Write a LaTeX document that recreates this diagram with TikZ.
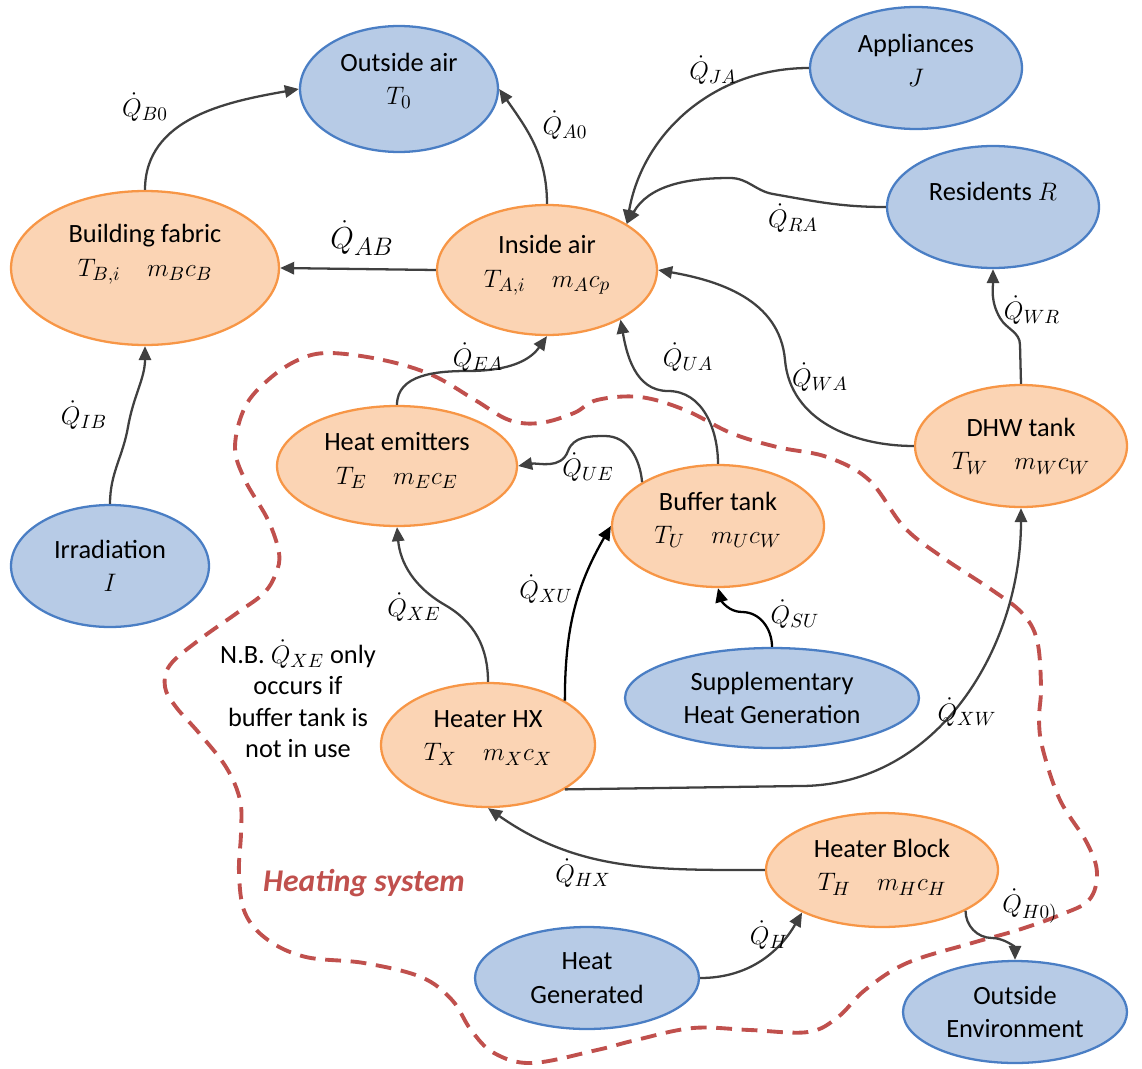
\documentclass[tikz,border=0pt]{standalone}
\usepackage{fontspec}
\setmainfont{Carlito}
\usetikzlibrary{shapes.geometric,arrows.meta}
\definecolor{outfill}{HTML}{B7CBE6}
\definecolor{outline}{HTML}{4A7EC4}
\definecolor{infill}{HTML}{FBD4B4}
\definecolor{inline}{HTML}{F79646}
\definecolor{flowgray}{HTML}{404040}
\definecolor{sysred}{HTML}{C0504D}

\begin{document}
\begin{tikzpicture}[x=0.02cm, y=0.02cm, font=\fontsize{15}{19}\selectfont,
  outer/.style={ellipse, draw=outline, fill=outfill, line width=1.3pt, inner sep=0pt, align=center},
  inner/.style={ellipse, draw=inline, fill=infill, line width=1.3pt, inner sep=0pt, align=center},
  lift/.style={text depth=#1},
  flow/.style={draw=flowgray, line width=1.3pt, -{Triangle[length=8pt,width=7pt]}},
  blackflow/.style={flow, draw=black},
  qlbl/.style={inner sep=0.5pt}]
  \useasboundingbox (0,0) rectangle (1142,-1068);

  \node[outer, lift=11.5pt, minimum width=3.96cm, minimum height=2.52cm] (oa) at (399,-89) {Outside air\\$T_0$};
  \node[outer, lift=8.5pt, minimum width=4.24cm, minimum height=2.44cm] (app) at (916,-68) {Appliances\\$J$};
  \node[outer, lift=18pt, minimum width=4.24cm, minimum height=2.44cm] (res) at (993,-207) {Residents $R$};
  \node[inner, lift=20pt, minimum width=5.36cm, minimum height=3.08cm] (bf) at (145,-268) {Building fabric\\$T_{B,i}\quad m_Bc_B$};
  \node[inner, lift=10pt, minimum width=4.4cm, minimum height=2.6cm] (ia) at (547,-270) {Inside air\\$T_{A,i}\quad m_Ac_p$};
  \node[outer, minimum width=3.96cm, minimum height=2.44cm] (irr) at (110,-566) {Irradiation\\$I$};
  \node[inner, lift=8.5pt, minimum width=4.8cm, minimum height=2.4cm] (he) at (397,-466) {Heat emitters\\$T_E\quad m_Ec_E$};
  \node[inner, lift=9.5pt, minimum width=4.24cm, minimum height=2.44cm] (bt) at (718,-526) {Buffer tank\\$T_U\quad m_Uc_W$};
  \node[inner, minimum width=4.24cm, minimum height=2.44cm] (dhw) at (1021,-446) {DHW tank\\$T_W\quad m_Wc_W$};
  \node[outer, minimum width=5.88cm, minimum height=2cm] (sup) at (772,-698) {Supplementary\\Heat Generation};
  \node[inner, lift=10.5pt, minimum width=4.28cm, minimum height=2.48cm] (hx) at (488,-745) {Heater HX\\$T_X\quad m_Xc_X$};
  \node[outer, minimum width=4.48cm, minimum height=2.04cm] (hg) at (587,-978) {Heat\\Generated};
  \node[inner, lift=6pt, minimum width=4.64cm, minimum height=2.28cm] (hb) at (882,-870) {Heater Block\\$T_H\quad m_Hc_H$};
  \node[outer, minimum width=4.48cm, minimum height=2.04cm] (oe) at (1015,-1012) {Outside\\Environment};

  \draw[sysred, line width=2.2pt, dash pattern=on 9pt off 5.5pt] plot[smooth cycle, tension=0.6] coordinates {
    (329,-353) (383,-360) (432,-375) (475,-400) (509,-420) (540,-423) (574,-413) (597,-400)
    (640,-397) (685,-410) (731,-433) (777,-447) (827,-457) (869,-480) (904,-527) (942,-557)
    (992,-590) (1022,-613) (1037,-640) (1041,-687) (1039,-720) (1043,-750) (1060,-800) (1087,-843)
    (1097,-873) (1089,-900) (1060,-915) (1018,-930) (972,-943) (907,-963) (865,-990) (838,-1017)
    (808,-1032) (750,-1030) (693,-1028) (636,-1040) (597,-1050) (532,-1063) (494,-1053) (471,-1030)
    (452,-1000) (421,-977) (364,-963) (306,-957) (268,-940) (245,-913) (239,-873) (241,-833)
    (240,-800) (226,-767) (199,-733) (176,-707) (165,-687) (170,-665) (199,-640) (237,-613)
    (264,-593) (276,-573) (279,-553) (268,-520) (245,-480) (235,-447) (245,-407) (268,-380) (298,-360)};

  \draw[flow] (bf.north) to[out=90,in=190] (oa.west);
  \draw[flow] (ia.north) to[out=90,in=-55] (oa.east);
  \draw[flow] (ia.west) -- (bf.east);
  \draw[flow] (app.west) to[out=180,in=80] (ia.30);
  \draw[flow] (res.west) to[out=180,in=-10] (773,-194) to[out=170,in=0] (730,-178) to[out=180,in=60] (ia.30);
  \draw[flow] (dhw.north) -- (1020,-345) to[out=90,in=-60] (1000,-318) to[out=120,in=-90] (res.south);
  \draw[flow] (dhw.west) to[out=180,in=-85] (785,-360) to[out=95,in=-10] (ia.east);
  \draw[flow] (irr.north) to[out=90,in=-100] (128,-427) to[out=80,in=-90] (bf.south);
  \draw[flow] (he.north) to[out=90,in=180] (468,-371) to[out=0,in=-125] (ia.south);
  \draw[flow] (bt.north) to[out=90,in=0] (668,-391) to[out=180,in=-80] (ia.-34);
  \draw[flow] (bt.150) to[out=95,in=0] (605,-436) to[out=180,in=70] (568,-451) to[out=-110,in=10] (he.east);
  \draw[flow] (hx.north) to[out=90,in=-30] (445,-605) to[out=150,in=-85] (he.south);
  \draw[blackflow] (hx.30) to[out=90,in=-120] (bt.west);
  \draw[blackflow] (sup.north) to[out=90,in=0] (742,-612) to[out=180,in=-75] (bt.south);
  \draw[flow] (hx.-30) -- (800,-786) to[out=0,in=-90] (dhw.south);
  \draw[flow] (hb.west) to[out=180,in=-35] (hx.south);
  \draw[flow] (hg.east) to[out=0,in=-120] (hb.208);
  \draw[flow] (hb.-26) to[out=-90,in=180] (992,-938) to[out=0,in=90] (oe.north);

  \node[qlbl] (qb0) at (145,-107) {$\dot Q_{B0}$};
  \node[qlbl] (qa0) at (565,-125) {$\dot Q_{A0}$};
  \node[qlbl, font=\fontsize{19}{22}\selectfont] (qab) at (362,-238) {$\dot Q_{AB}$};
  \node[qlbl] (qja) at (713,-70) {$\dot Q_{JA}$};
  \node[qlbl] (qra) at (793,-218) {$\dot Q_{RA}$};
  \node[qlbl] (qwr) at (1032,-310) {$\dot Q_{WR}$};
  \node[qlbl] (qib) at (84,-415) {$\dot Q_{IB}$};
  \node[qlbl] (qea) at (478,-357) {$\dot Q_{EA}$};
  \node[qlbl] (qua) at (688,-357) {$\dot Q_{UA}$};
  \node[qlbl] (qwa) at (820,-377) {$\dot Q_{WA}$};
  \node[qlbl] (que) at (588,-467) {$\dot Q_{UE}$};
  \node[qlbl] (qxu) at (546,-589) {$\dot Q_{XU}$};
  \node[qlbl] (qxe) at (414,-607) {$\dot Q_{XE}$};
  \node[qlbl] (qsu) at (795,-614) {$\dot Q_{SU}$};
  \node[qlbl] (qxw) at (967,-712) {$\dot Q_{XW}$};
  \node[qlbl] (qhx) at (583,-873) {$\dot Q_{HX}$};
  \node[qlbl] (qh) at (769,-935) {$\dot Q_{H}$};
  \node[qlbl] (qh0) at (1030,-906) {$\dot Q_{H0)}$};
  \node[align=center, font=\fontsize{15}{18}\selectfont] (nb) at (298,-699) {N.B. $\dot Q_{XE}$ only\\occurs if\\buffer tank is\\not in use};
  \node[text=sysred, font=\fontsize{18}{21}\selectfont\bfseries\itshape] (hs) at (364,-883) {Heating system};
\end{tikzpicture}
\end{document}
